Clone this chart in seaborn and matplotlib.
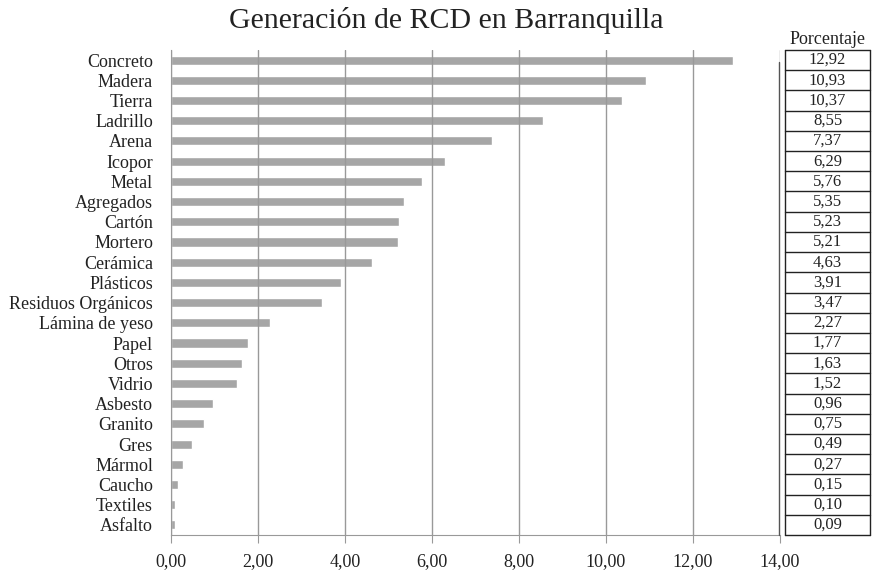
import matplotlib
matplotlib.use("Agg")
import matplotlib.pyplot as plt
import numpy as np
import pandas as pd
import seaborn as sns
from matplotlib.ticker import FuncFormatter, FixedLocator

materiales = [
    "Concreto", "Madera", "Tierra", "Ladrillo", "Arena", "Icopor", "Metal",
    "Agregados", "Cartón", "Mortero", "Cerámica", "Plásticos",
    "Residuos Orgánicos", "Lámina de yeso", "Papel", "Otros", "Vidrio",
    "Asbesto", "Granito", "Gres", "Mármol", "Caucho", "Textiles", "Asfalto",
]
porcentaje = [
    12.92, 10.93, 10.37, 8.55, 7.37, 6.29, 5.76, 5.35, 5.23, 5.21, 4.63, 3.91,
    3.47, 2.27, 1.77, 1.63, 1.52, 0.96, 0.75, 0.49, 0.27, 0.15, 0.10, 0.09,
]
x_ticks = [0, 2, 4, 6, 8, 10, 12, 14]

df = pd.DataFrame({"material": materiales, "porcentaje": porcentaje})

sns.set_style("white")
plt.rcParams["font.family"] = ["Liberation Serif", "DejaVu Serif"]

fig = plt.figure(figsize=(8.72, 5.72), dpi=100)
W, H = 872, 572
ax = fig.add_axes([171 / W, 1 - 535 / H, (780 - 171) / W, (535 - 50) / H])

sns.barplot(data=df, x="porcentaje", y="material", color="#a6a6a6",
            saturation=1, width=0.45, ax=ax, orient="h")

ax.set_xlim(0, 14)
ax.set_ylim(len(materiales) - 0.5, -0.5)
ax.xaxis.set_major_locator(FixedLocator(x_ticks))
ax.xaxis.set_major_formatter(FuncFormatter(lambda v, p: f"{v:.2f}".replace(".", ",")))
ax.grid(axis="x", color="#999999", linewidth=1.0)
ax.set_axisbelow(False)
ax.set_xlabel("")
ax.set_ylabel("")

for s in ["top", "right"]:
    ax.spines[s].set_visible(False)
ax.spines["left"].set_color("#999999")
ax.spines["bottom"].set_color("#999999")

ax.tick_params(axis="y", which="major", length=0, labelsize=13, pad=13, colors="#222222")
ax.set_yticks(np.arange(len(materiales) + 1) - 0.5, minor=True)
ax.tick_params(axis="y", which="minor", length=5, color="#999999", width=1)
ax.tick_params(axis="x", which="major", length=6, labelsize=13, pad=7,
               labelcolor="#222222", color="#999999", bottom=True)

fig.text(446 / W, 1 - 20 / H, "Generación de RCD en Barranquilla", fontsize=21.5,
         ha="center", va="center", color="#222222")

# tabla de porcentajes a la derecha
tab = fig.add_axes([785 / W, 1 - 535 / H, (870 - 785) / W, (535 - 50) / H], sharey=ax)
tab.set_xlim(0, 1)
tab.axis("off")
for i in range(len(materiales) + 1):
    tab.plot([0, 1], [i - 0.5, i - 0.5], color="#222222", lw=1, clip_on=False)
tab.plot([0, 0], [-0.5, len(materiales) - 0.5], color="#222222", lw=1, clip_on=False)
tab.plot([1, 1], [-0.5, len(materiales) - 0.5], color="#222222", lw=1, clip_on=False)
for i, v in enumerate(porcentaje):
    tab.text(0.5, i, f"{v:.2f}".replace(".", ","), ha="center", va="center",
             fontsize=12, color="#222222")
tab.text(0.5, -0.6, "Porcentaje", ha="center", va="bottom", fontsize=13, color="#222222")
fig.lines.append(plt.Line2D([779 / W, 779 / W], [1 - 535 / H, 1 - 62 / H],
                            transform=fig.transFigure, color="#555555", lw=1))

fig.savefig("out.png", dpi=100)
